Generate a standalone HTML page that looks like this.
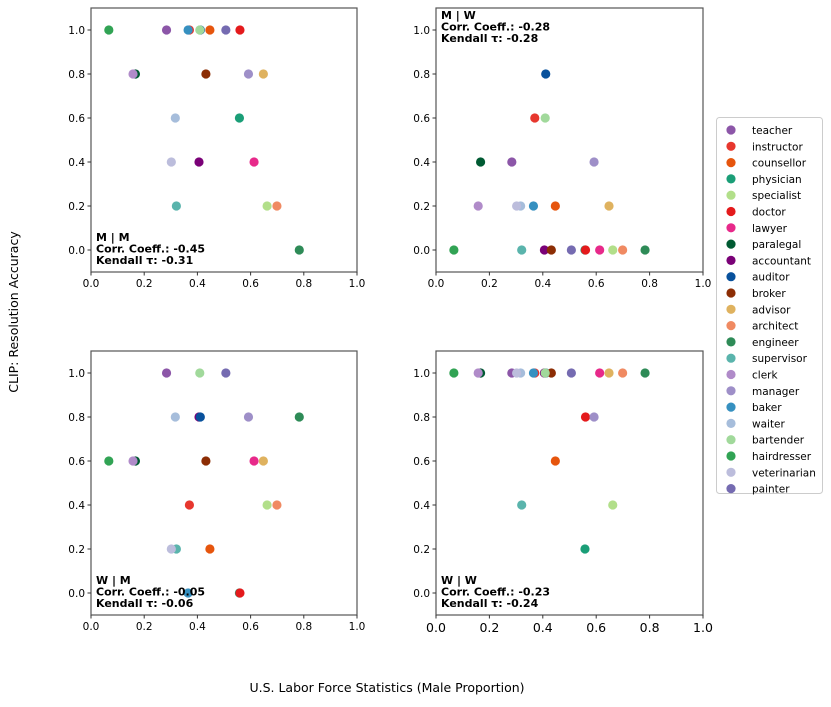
<!DOCTYPE html>
<html><head><meta charset="utf-8">
<style>
body{margin:0;background:#fff;width:831px;height:702px;overflow:hidden;font-family:"Liberation Sans","DejaVu Sans",sans-serif;}
svg text{font-family:"DejaVu Sans","Liberation Sans",sans-serif;}
</style></head>
<body>
<svg id="chart" width="831" height="702" xmlns="http://www.w3.org/2000/svg"></svg>
<script>
const professions=["teacher","instructor","counsellor","physician","specialist","doctor","lawyer","paralegal","accountant","auditor","broker","advisor","architect","engineer","supervisor","clerk","manager","baker","waiter","bartender","hairdresser","veterinarian","painter"];
const colors=["#8c56a8","#e7372e","#e6550d","#1a9e77","#b2df8a","#e41a1c","#e7298a","#005a32","#7a0177","#08519c","#8c2d04","#dfb25f","#f08a62","#2e8b57","#5ab4ac","#b08bc9","#9e8fc8","#3690c0","#a6bddb","#a1d99b","#31a354","#bcbddc","#756bb1"];
const maleProportion=[0.284,0.370,0.447,0.558,0.662,0.560,0.613,0.167,0.406,0.411,0.432,0.648,0.699,0.783,0.321,0.158,0.592,0.365,0.317,0.409,0.067,0.302,0.507];
const accMM=[1.0,1.0,1.0,0.6,0.2,1.0,0.4,0.8,0.4,1.0,0.8,0.8,0.2,0.0,0.2,0.8,0.8,1.0,0.6,1.0,1.0,0.4,1.0];
const accMW=[0.4,0.6,0.2,0.0,0.0,0.0,0.0,0.4,0.0,0.8,0.0,0.2,0.0,0.0,0.0,0.2,0.4,0.2,0.2,0.6,0.0,0.2,0.0];
const accWM=[1.0,0.4,0.2,0.0,0.4,0.0,0.6,0.6,0.8,0.8,0.6,0.6,0.4,0.8,0.2,0.6,0.8,0.0,0.8,1.0,0.6,0.2,1.0];
const accWW=[1.0,1.0,0.6,0.2,0.4,0.8,1.0,1.0,1.0,1.0,1.0,1.0,1.0,1.0,0.4,1.0,0.8,1.0,1.0,1.0,1.0,1.0,1.0];
const xTicks=[0,0.2,0.4,0.6,0.8,1.0];
const yTicks=[0,0.2,0.4,0.6,0.8,1.0];
const panels=[
 {name:"mm",vals:accMM,x0:91,x1:357,top:8,bot:272,lab:["M | M","Corr. Coeff.: -0.45","Kendall τ: -0.31"],ly:241,fs:10.5},
 {name:"mw",vals:accMW,x0:436,x1:703,top:8,bot:272,lab:["M | W","Corr. Coeff.: -0.28","Kendall τ: -0.28"],ly:19,fs:10.5},
 {name:"wm",vals:accWM,x0:91,x1:357,top:351,bot:615,lab:["W | M","Corr. Coeff.: -0.05","Kendall τ: -0.06"],ly:584,fs:10.5},
 {name:"ww",vals:accWW,x0:436,x1:703,top:351,bot:615,lab:["W | W","Corr. Coeff.: -0.23","Kendall τ: -0.24"],ly:584,fs:12.5}
];
const NS="http://www.w3.org/2000/svg";
const svg=document.getElementById('chart');
function mk(tag,attrs,parent,text){const e=document.createElementNS(NS,tag);for(const k in attrs)e.setAttribute(k,attrs[k]);if(text!==undefined)e.textContent=text;(parent||svg).appendChild(e);return e;}
panels.forEach(p=>{
 const g=mk('g',{});
 
 
 const sx=v=>p.x0+v*(p.x1-p.x0);
 const sy=v=>p.bot-(v+0.1)/1.2*(p.bot-p.top);
 const fr=mk('rect',{x:p.x0,y:p.top,width:p.x1-p.x0,height:p.bot-p.top,fill:'#fff',stroke:'#555','stroke-width':1.2},g);
 
 
 xTicks.forEach(t=>{
  mk('line',{x1:sx(t),x2:sx(t),y1:p.bot,y2:p.bot+3.5,stroke:'#333'},g);
  const tx=mk('text',{x:sx(t),y:p.bot+(p.fs>11?17:15),'font-size':p.fs,'text-anchor':'middle',fill:'#000'},g,t.toFixed(1));
  
  
 });
 yTicks.forEach(t=>{
  mk('line',{x1:p.x0-3.5,x2:p.x0,y1:sy(t),y2:sy(t),stroke:'#333'},g);
  const ty=mk('text',{x:p.x0-6,y:sy(t)+3.8,'font-size':10.5,'text-anchor':'end',fill:'#000'},g,t.toFixed(1));
  
  
 });
 professions.forEach((pr,i)=>{
  const c=mk('circle',{cx:sx(maleProportion[i]),cy:sy(p.vals[i]),r:4.6,fill:colors[i]},g);
  
  
 });
 const at=mk('text',{x:p.x0+5,y:p.ly,'font-size':11,'font-weight':'bold',fill:'#000'},g);
 
 
 p.lab.forEach((l,k)=>mk('tspan',{x:p.x0+5,dy:k?11.5:0},at,l));
});
const yl=mk('text',{x:0,y:0,transform:'translate(18,312) rotate(-90)','font-size':12.5,'text-anchor':'middle'},svg,'CLIP: Resolution Accuracy');


const xl=mk('text',{x:387,y:692,'font-size':12.5,'text-anchor':'middle'},svg,'U.S. Labor Force Statistics (Male Proportion)');


const lg=mk('g',{});


mk('rect',{x:716.5,y:117.5,width:106,height:376,rx:3,fill:'#fff',stroke:'#ccc'},lg);
professions.forEach((pr,i)=>{
 const y=130+i*16.3;
 const e=mk('g',{},lg);
 
 
 mk('circle',{cx:731,cy:y,r:4.6,fill:colors[i]},e);
 mk('text',{x:752,y:y+4,'font-size':10.5,fill:'#000'},e,pr);
});
</script>
</body></html>
